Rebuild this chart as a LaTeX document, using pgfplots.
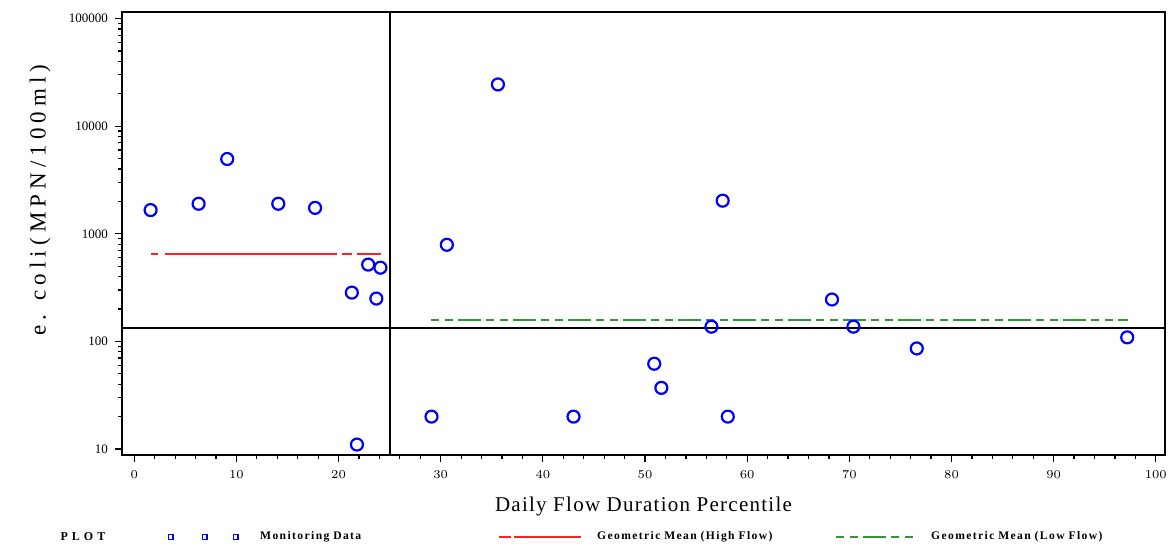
\documentclass[border=0pt]{standalone}
\usepackage{fontspec}
\setmainfont{Liberation Serif}
\usepackage{pgfplots}
\pgfplotsset{compat=1.18}

\definecolor{sasred}{HTML}{FF2020}
\definecolor{sasgreen}{HTML}{2E9A2E}

\begin{document}
\begin{tikzpicture}
\begin{axis}[
  name=ax,
  scale only axis,
  width=521.5pt, height=221.5pt,
  ymode=log,
  xmin=-1.2, xmax=100.9,
  ymin=8.8, ymax=115000,
  xtick={0,10,...,100},
  minor x tick num=4,
  ytick={10,100,1000,10000,100000},
  yticklabels={10,100,1000,10000,100000},
  tick align=outside,
  xtick pos=bottom, ytick pos=left,
  major tick length=3.5pt, minor tick length=2pt,
  tick style={black, line width=0.6pt},
  axis line style={black, line width=0.8pt},
  tick label style={font=\fontsize{6.5}{7}\selectfont},
  xticklabel style={yshift=-1pt},
  xlabel={Daily Flow Duration Percentile},
  ylabel={e. coli(MPN/100ml)},
  xlabel style={font=\fontsize{10.5}{12}\selectfont\addfontfeature{LetterSpace=6},
    at={(axis description cs:0.5,-0.117)},anchor=center},
  ylabel style={font=\fontsize{11.5}{13}\selectfont\addfontfeature{LetterSpace=22},
    at={(axis description cs:-0.0786,0.575)},anchor=center},
  clip=false,
  legend style={
    at={(axis description cs:0.0412,-0.185)}, anchor=west,
    draw=none, fill=none, inner sep=0pt,
    legend columns=-1,
    font=\bfseries\fontsize{5.8}{6.5}\selectfont\addfontfeature{LetterSpace=12},
    nodes={inner xsep=0pt, text width=119pt, align=left},
    /tikz/every odd column/.style={column sep=0pt},
    /tikz/every even column/.style={column sep=0pt},
  },
]
% reference lines
\addplot[black, line width=1pt, forget plot] coordinates {(-1.2,132) (100.9,132)};
\addplot[black, line width=1pt, forget plot] coordinates {(25,8.8) (25,115000)};

% monitoring data
\addplot[only marks, mark=o, mark size=3pt, blue, mark options={line width=1.1pt},
  legend image code/.code={
    \draw[blue, solid, line width=0.7pt] (1.3pt,-1.2pt) rectangle ++(2.4pt,2.4pt);
    \draw[blue, solid, line width=0.7pt] (18.3pt,-1.2pt) rectangle ++(2.4pt,2.4pt);
    \draw[blue, solid, line width=0.7pt] (33.8pt,-1.2pt) rectangle ++(2.4pt,2.4pt);
    \path (0pt,0pt) (47pt,0pt);
  }]
coordinates {
 (1.6,1660) (6.3,1900) (9.1,4950) (14.1,1900) (17.7,1740)
 (21.3,284) (22.9,517) (24.1,484) (23.7,250) (21.8,11)
 (29.1,20) (30.6,790) (35.6,24400) (43.0,20) (50.9,62)
 (51.6,37) (56.5,137) (57.6,2030) (58.1,20) (68.3,245)
 (70.4,137) (76.6,86) (97.2,109)
};
\addlegendentry{Monitoring Data}

% geometric mean, high flow
\addplot[sasred, line width=1pt,
  dash pattern=on 3.7pt off 3.5pt on 86pt off 2.5pt on 5pt off 2.5pt on 12pt off 3pt,
  legend image code/.code={
    \draw[sasred, solid, line width=1pt] (0pt,0pt) -- (6pt,0pt);
    \draw[sasred, solid, line width=1pt] (7.5pt,0pt) -- (41pt,0pt);
    \path (0pt,0pt) (48.5pt,0pt);
  }]
coordinates {(1.6,653) (24.2,653)};
\addlegendentry{Geometric Mean (High Flow)}

% geometric mean, low flow
\addplot[sasgreen, line width=1pt,
  dash pattern=on 4pt off 3pt on 4pt off 2.5pt on 11.5pt off 2.5pt,
  legend image code/.code={
    \draw[sasgreen, line width=1pt, dash pattern=on 4pt off 3pt on 4pt off 2.5pt on 11.5pt off 2.5pt]
      (0pt,0pt) -- (41pt,0pt);
    \path (0pt,0pt) (47pt,0pt);
  }]
coordinates {(29.0,157) (97.3,157)};
\addlegendentry{Geometric Mean (Low Flow)}

\node[font=\bfseries\fontsize{6}{7}\selectfont] at (axis description cs:-0.0374,-0.185) {P\,\,L\,\,O\,\,T};
\end{axis}
\path (ax.south west) ++(-61pt,-47.5pt) coordinate (bl);
\path (ax.north east) ++(4pt,6pt) coordinate (tr);
\pgfresetboundingbox
\useasboundingbox (bl) rectangle (tr);
\end{tikzpicture}
\end{document}
